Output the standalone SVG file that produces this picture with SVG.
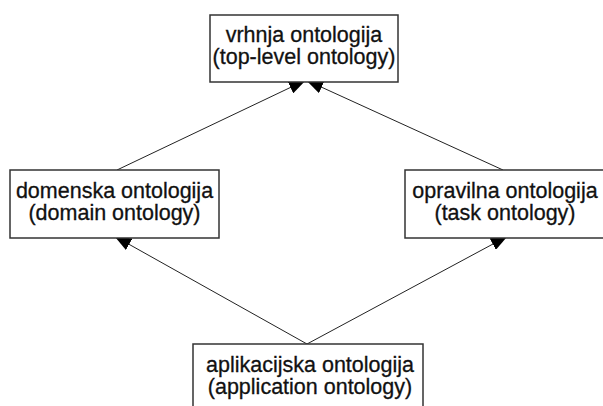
<svg xmlns="http://www.w3.org/2000/svg" width="603" height="406" viewBox="0 0 603 406">
  <style>
    .box { fill: #ffffff; stroke: #333333; stroke-width: 1.5; }
    .lbl { font-family: "Liberation Sans", Arial, sans-serif; font-size: 21.5px; fill: #111111; stroke: #111111; stroke-width: 0.3; text-anchor: middle; }
    .edge { stroke: #222222; stroke-width: 1; fill: none; marker-end: url(#head); }
  </style>
  <defs>
    <marker id="head" viewBox="0 0 17 13" refX="15" refY="6.5" markerWidth="17" markerHeight="13" markerUnits="userSpaceOnUse" orient="auto">
      <path d="M0,0 L17,6.5 L0,13 Z" fill="#000000"/>
    </marker>
  </defs>
  <rect width="603" height="406" fill="#ffffff"/>

  <g id="connectors">
    <line class="edge" x1="117" y1="170" x2="304" y2="81"/>
    <line class="edge" x1="503" y1="170" x2="308" y2="81"/>
    <line class="edge" x1="307" y1="344" x2="116" y2="237"/>
    <line class="edge" x1="307" y1="344" x2="506" y2="237"/>
  </g>

  <g id="top-level">
    <rect class="box" x="210" y="15" width="188" height="67"/>
    <text class="lbl" x="304" y="42">vrhnja ontologija</text>
    <text class="lbl" x="304" y="64">(top-level ontology)</text>
  </g>

  <g id="domain">
    <rect class="box" x="10" y="170" width="209" height="68"/>
    <text class="lbl" x="114.5" y="198">domenska ontologija</text>
    <text class="lbl" x="114.5" y="220">(domain ontology)</text>
  </g>

  <g id="task">
    <rect class="box" x="405" y="170" width="202" height="68"/>
    <text class="lbl" x="505" y="198">opravilna ontologija</text>
    <text class="lbl" x="505" y="220">(task ontology)</text>
  </g>

  <g id="application">
    <rect class="box" x="193" y="344" width="230" height="70"/>
    <text class="lbl" x="310" y="372">aplikacijska ontologija</text>
    <text class="lbl" x="310" y="394">(application ontology)</text>
  </g>
</svg>
